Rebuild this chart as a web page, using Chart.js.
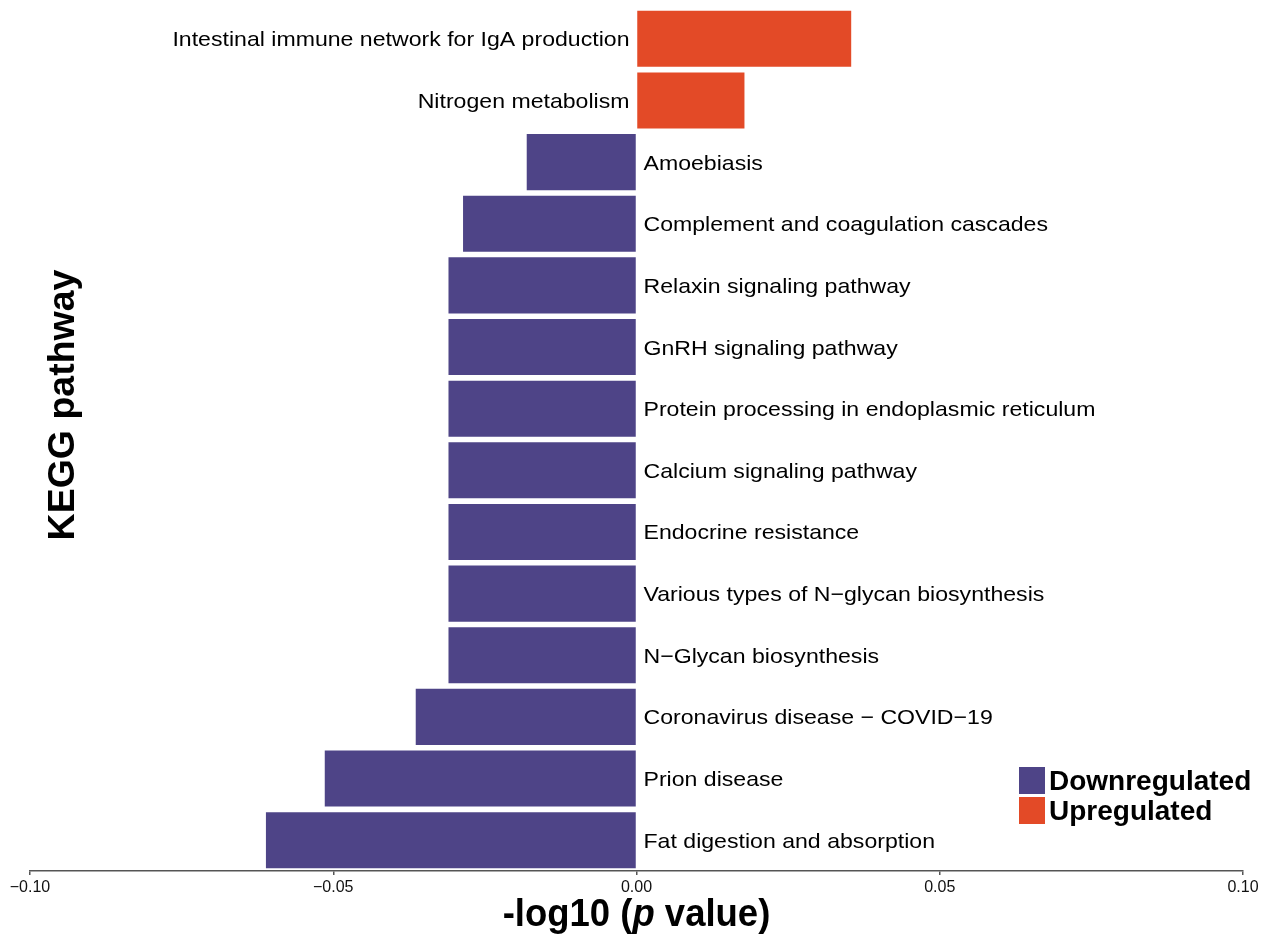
<!DOCTYPE html>
<html>
<head>
<meta charset="utf-8">
<title>KEGG pathway enrichment</title>
<script src="https://cdn.jsdelivr.net/npm/chart.js@4.4.1/dist/chart.umd.min.js"></script>
<style>
  html, body { margin: 0; padding: 0; background: #fff; }
  #wrap { width: 1270px; height: 937px; position: relative; }
</style>
</head>
<body>
<div id="wrap"><canvas id="keggChart" width="1270" height="937"></canvas></div>
<script>
// pathways, top to bottom
const pathways = [
  "Intestinal immune network for IgA production",
  "Nitrogen metabolism",
  "Amoebiasis",
  "Complement and coagulation cascades",
  "Relaxin signaling pathway",
  "GnRH signaling pathway",
  "Protein processing in endoplasmic reticulum",
  "Calcium signaling pathway",
  "Endocrine resistance",
  "Various types of N\u2212glycan biosynthesis",
  "N\u2212Glycan biosynthesis",
  "Coronavirus disease \u2212 COVID\u221219",
  "Prion disease",
  "Fat digestion and absorption"
];
// signed -log10(p): positive = up, negative = down
const upValues   = [0.0354, 0.0178, null, null, null, null, null, null, null, null, null, null, null, null];
const downValues = [null, null, -0.0181, -0.0286, -0.0310, -0.0310, -0.0310, -0.0310, -0.0310, -0.0310, -0.0310, -0.0364, -0.0514, -0.0611];
const xTicks = [-0.10, -0.05, 0.00, 0.05, 0.10];

const DOWN_COLOR = "#4E4487";
const UP_COLOR = "#E34A27";
const SANS = '"Liberation Sans", Arial, Helvetica, sans-serif';

// text drawn slightly widened horizontally
function wideText(ctx, text, x, y, sx) {
  ctx.save();
  ctx.translate(x, y);
  ctx.scale(sx, 1);
  ctx.fillText(text, 0, 0);
  ctx.restore();
}

// pathway names next to the zero line, legend and axis titles
const annotate = {
  id: "annotate",
  afterDatasetsDraw(chart) {
    const { ctx, chartArea, scales: { x, y } } = chart;
    const x0 = x.getPixelForValue(0);
    ctx.save();
    ctx.fillStyle = "#000";
    ctx.font = "21px " + SANS;
    ctx.textBaseline = "alphabetic";
    pathways.forEach((name, i) => {
      const yc = y.getPixelForValue(i);
      const v = upValues[i] != null ? upValues[i] : downValues[i];
      if (v > 0) {
        ctx.textAlign = "right";
        wideText(ctx, name, x0 - 7, yc + 7.5, 1.1);
      } else {
        ctx.textAlign = "left";
        wideText(ctx, name, x0 + 7, yc + 7.5, 1.1);
      }
    });

    // legend
    const items = [
      { label: chart.data.datasets[0].label, color: DOWN_COLOR },
      { label: chart.data.datasets[1].label, color: UP_COLOR }
    ];
    ctx.font = "bold 28px " + SANS;
    ctx.textAlign = "left";
    ctx.textBaseline = "middle";
    items.forEach((it, k) => {
      const top = 767 + k * 30;
      ctx.fillStyle = it.color;
      ctx.fillRect(1019, top, 26, 27);
      ctx.fillStyle = "#000";
      ctx.fillText(it.label, 1049, top + 15);
    });

    // x title with italic p
    const sx = 0.96;
    const parts = [
      { t: "-log10 (", f: "bold 38px " + SANS },
      { t: "p", f: "italic bold 38px " + SANS },
      { t: " value)", f: "bold 38px " + SANS }
    ];
    let total = 0;
    parts.forEach(p => { ctx.font = p.f; p.w = ctx.measureText(p.t).width; total += p.w; });
    ctx.save();
    ctx.translate((chartArea.left + chartArea.right) / 2, 926);
    ctx.scale(sx, 1);
    let px = -total / 2;
    ctx.textBaseline = "alphabetic";
    parts.forEach(p => {
      ctx.font = p.f;
      ctx.fillText(p.t, px, 0);
      px += p.w;
    });
    ctx.restore();

    // y title
    ctx.translate(64, 405);
    ctx.rotate(-Math.PI / 2);
    ctx.font = "bold 37.5px " + SANS;
    ctx.textAlign = "center";
    ctx.textBaseline = "middle";
    ctx.fillText("KEGG pathway", 0, 0);
    ctx.restore();
  }
};

new Chart(document.getElementById("keggChart"), {
  type: "bar",
  data: {
    labels: pathways,
    datasets: [
      { label: "Downregulated", data: downValues, backgroundColor: DOWN_COLOR },
      { label: "Upregulated", data: upValues, backgroundColor: UP_COLOR }
    ]
  },
  options: {
    indexAxis: "y",
    responsive: false,
    animation: false,
    devicePixelRatio: 1,
    layout: { padding: { top: 8, left: 30, right: 27, bottom: 0 } },
    datasets: { bar: { grouped: false, barPercentage: 0.91, categoryPercentage: 1, skipNull: true } },
    plugins: { legend: { display: false }, tooltip: { enabled: false } },
    scales: {
      y: {
        display: false,
        // a little room between the last bar and the x axis
        afterDataLimits: s => { s.max = pathways.length - 1 + 0.15; }
      },
      x: {
        min: -0.1,
        max: 0.1,
        afterBuildTicks: s => { s.ticks = xTicks.map(v => ({ value: v })); },
        afterFit: s => { s.height = 66; },
        border: { display: true, color: "#555", width: 1.5 },
        grid: { drawOnChartArea: false, drawTicks: true, tickLength: 4, color: "#555", lineWidth: 1.5 },
        ticks: {
          padding: 3,
          color: "#111",
          font: { family: SANS, size: 16 },
          callback: v => (Math.abs(v) < 1e-9 ? 0 : v).toFixed(2).replace("-", "\u2212")
        }
      }
    }
  },
  plugins: [annotate]
});
</script>
</body>
</html>
